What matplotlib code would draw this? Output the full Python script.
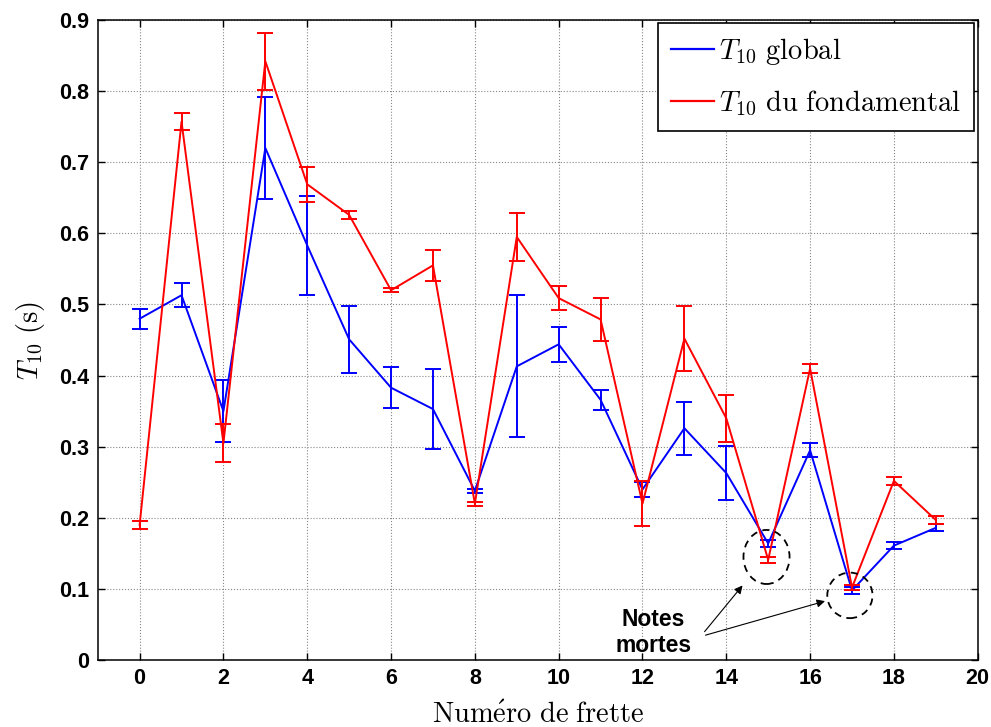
import matplotlib
matplotlib.use("Agg")
import matplotlib.pyplot as plt
from matplotlib.patches import Ellipse
from matplotlib.lines import Line2D

plt.rcParams['mathtext.fontset'] = 'cm'

frets = list(range(20))
t10_global = [0.480, 0.513, 0.350, 0.720, 0.583, 0.451, 0.383, 0.353, 0.238, 0.413,
              0.444, 0.366, 0.240, 0.326, 0.263, 0.164, 0.295, 0.098, 0.161, 0.186]
t10_global_err = [0.014, 0.017, 0.044, 0.072, 0.070, 0.047, 0.029, 0.056, 0.003, 0.100,
                  0.025, 0.014, 0.011, 0.037, 0.038, 0.005, 0.010, 0.005, 0.005, 0.005]
t10_fond = [0.190, 0.757, 0.305, 0.842, 0.669, 0.626, 0.520, 0.555, 0.220, 0.595,
            0.509, 0.479, 0.220, 0.452, 0.340, 0.141, 0.410, 0.102, 0.252, 0.197]
t10_fond_err = [0.005, 0.012, 0.027, 0.040, 0.025, 0.006, 0.003, 0.022, 0.003, 0.034,
                0.017, 0.030, 0.032, 0.046, 0.033, 0.004, 0.006, 0.003, 0.006, 0.006]

xticks = list(range(0, 21, 2))
yticks = [0, 0.1, 0.2, 0.3, 0.4, 0.5, 0.6, 0.7, 0.8, 0.9]
ytick_labels = ['0', '0.1', '0.2', '0.3', '0.4', '0.5', '0.6', '0.7', '0.8', '0.9']
labels = [r'$T_{10}\ \mathrm{global}$', r'$T_{10}\ \mathrm{du\ fondamental}$']
colors = ['#0000ff', '#ff0000']

fig = plt.figure(figsize=(9.91, 7.27), dpi=100)
ax = fig.add_axes([0.0986, 0.092, 0.888, 0.8805])

ax.errorbar(frets, t10_global, yerr=t10_global_err, color=colors[0], lw=1.4,
            elinewidth=1.4, capsize=5.5, capthick=1.4, zorder=3)
ax.errorbar(frets, t10_fond, yerr=t10_fond_err, color=colors[1], lw=1.4,
            elinewidth=1.4, capsize=5.5, capthick=1.4, zorder=4)

ax.set_xlim(-1, 20)
ax.set_ylim(0, 0.9)
ax.set_xticks(xticks)
ax.set_yticks(yticks)
ax.set_yticklabels(ytick_labels)
for lab in ax.get_xticklabels() + ax.get_yticklabels():
    lab.set_fontweight('bold')
    lab.set_fontsize(15.5)
    lab.set_family('Liberation Sans')
ax.tick_params(direction='in', top=True, right=True, length=5, width=1, pad=6)
ax.grid(True, linestyle=':', color='#888888', linewidth=0.8)
for s in ax.spines.values():
    s.set_linewidth(1.1)

ax.set_xlabel(r'$\mathrm{Num\acute{e}ro\ de\ frette}$', fontsize=20.5, labelpad=8)
ax.set_ylabel(r'$T_{10}\ \mathrm{(s)}$', fontsize=20.5, labelpad=9)

handles = [Line2D([], [], color=c, lw=1.6) for c in colors]
leg = ax.legend(handles, labels, loc='upper right', fontsize=20.5, fancybox=False,
                framealpha=1, edgecolor='black', borderaxespad=0.12,
                handlelength=1.5, handletextpad=0.2, labelspacing=0.75,
                borderpad=0.45)
leg.get_frame().set_linewidth(1.2)

ax.add_patch(Ellipse((14.96, 0.145), 1.1, 0.076, fill=False, ls=(0, (4, 3)),
                     lw=1.3, color='black', zorder=5))
ax.add_patch(Ellipse((16.95, 0.091), 1.08, 0.064, fill=False, ls=(0, (4, 3)),
                     lw=1.3, color='black', zorder=5))
ax.text(12.26, 0.039, 'Notes\nmortes', ha='center', va='center', fontsize=16.5,
        fontweight='bold', family='Liberation Sans', linespacing=1.15, zorder=6)
ax.annotate('', xy=(14.43, 0.108), xytext=(13.44, 0.037),
            arrowprops=dict(arrowstyle='-|>', color='black', lw=0.8, mutation_scale=12))
ax.annotate('', xy=(16.42, 0.084), xytext=(13.44, 0.034),
            arrowprops=dict(arrowstyle='-|>', color='black', lw=0.8, mutation_scale=12))

fig.savefig('out.png', dpi=100)
